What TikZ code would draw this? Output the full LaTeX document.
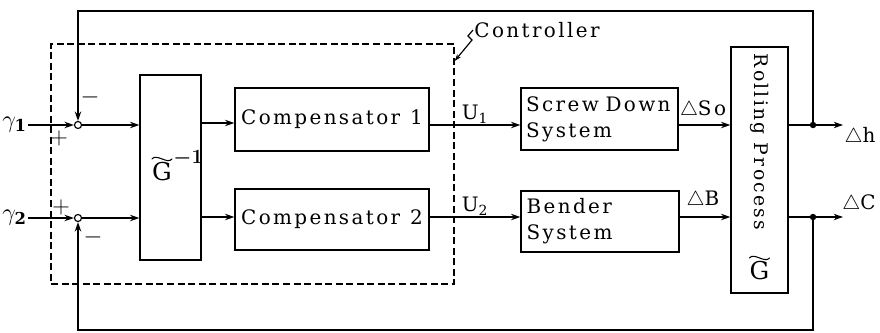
\documentclass[tikz,border=0pt]{standalone}
\usepackage{amsmath,amssymb}
\usepackage{fontspec}
\setmainfont{DejaVu Serif}
\newfontfamily\widefont{DejaVu Serif}[LetterSpace=12]
\newcommand{\dlt}{{\fontsize{19}{20}\selectfont$\triangle$}}
\usetikzlibrary{arrows.meta,positioning}

\tikzset{
  blockbox/.style={draw, line width=1.1pt, inner sep=0pt, font=\widefont\fontsize{17}{22}\selectfont},
  sumjn/.style={circle, draw, line width=1pt, inner sep=0pt, minimum size=6pt},
  sig/.style={line width=1.1pt, -{Stealth[length=8pt,width=5.5pt]}},
  tag/.style={font=\widefont\fontsize{17}{20}\selectfont, inner sep=1pt},
  sign/.style={font=\fontsize{20}{24}\selectfont, inner sep=0pt},
  tap/.style={circle, fill, inner sep=0pt, minimum size=5.5pt},
  bigg/.style={font=\fontsize{21}{24}\selectfont, inner sep=0pt},
  wave/.style={line width=0.9pt, line cap=round}
}

\begin{document}
\begin{tikzpicture}[x=0.03cm, y=-0.03cm]

    % Frame
    \useasboundingbox (0,0) rectangle (880,332);

    % Key y-values of the two channels
    \def\ya{125}
    \def\yb{218}

    % Controller (dashed)
    \node[draw, line width=1.1pt, dash pattern=on 6pt off 3pt, minimum width=12.09cm,
          minimum height=7.2cm, inner sep=0pt] (cbox) at (252.5,164) {};
    \node[tag, anchor=west] (ctrl) at (473,30) {Controller};

    % Summing points and inputs
    \node[anchor=east, inner sep=1pt, font=\fontsize{20}{24}\selectfont] (r1) at (28,\ya) {$\gamma_{\mathbf{1}}$};
    \node[anchor=east, inner sep=1pt, font=\fontsize{20}{24}\selectfont] (r2) at (28,\yb) {$\gamma_{\mathbf{2}}$};
    \node[sumjn] (sum1) at (78,\ya) {};
    \node[sumjn] (sum2) at (78,\yb) {};

    % Blocks
    \node[blockbox, minimum width=1.83cm, minimum height=5.55cm] (ginv) at (170.5,167.5) {};
    \node[bigg] (ginvg) at (162,172) {G};
    \node[font=\fontsize{16}{18}\selectfont\bfseries, inner sep=0pt, anchor=south west]
        (ginvexp) at ([xshift=1pt,yshift=-3pt]ginvg.north east) {$\boldsymbol{-1}$};
    \draw[wave] ([yshift=3pt]ginvg.north west) .. controls +(4pt,5pt) and +(-4pt,-5pt)
        .. ([yshift=3pt]ginvg.north east);
    \node[blockbox, minimum width=5.82cm, minimum height=1.89cm] (comp1) at (332,119.5)
        {Compensator\enspace 1};
    \node[blockbox, minimum width=5.82cm, minimum height=1.83cm] (comp2) at (332,219.5)
        {Compensator\enspace 2};
    \node[blockbox, minimum width=4.71cm, minimum height=1.86cm, align=left,
          text width=4.4cm] (screw) at (599.5,119) {Screw Down\\System};
    \node[blockbox, minimum width=4.74cm, minimum height=1.83cm, align=left,
          text width=4.4cm] (bender) at (600,221.5) {Bender\\System};
    \node[blockbox, minimum width=1.71cm, minimum height=7.38cm] (roll) at (759.5,170) {};
    \node[tag, rotate=-90, font=\widefont\fontsize{16}{19}\selectfont] (rolltxt) at (760,142) {Rolling Process};
    \node[bigg] (gtxt) at (759.5,271) {G};
    \draw[wave] ([yshift=3pt]gtxt.north west) .. controls +(4pt,5pt) and +(-4pt,-5pt)
        .. ([yshift=3pt]gtxt.north east);

    % Forward path
    \draw[sig] (r1.east) -- (sum1);
    \draw[sig] (r2.east) -- (sum2);
    \draw[sig] (sum1) -- (ginv.west |- sum1);
    \draw[sig] (sum2) -- (ginv.west |- sum2);
    \draw[sig] (ginv.east |- 0,123) -- (comp1.west |- 0,123);
    \draw[sig] (ginv.east |- 0,217) -- (comp2.west |- 0,217);
    \draw[sig] (comp1.east |- sum1) -- node[tag, above, pos=0.5] (u1) {U\textsubscript{1}} (screw.west |- sum1);
    \draw[sig] (comp2.east |- 0,217) -- node[tag, above, pos=0.5] (u2) {U\textsubscript{2}} (bender.west |- 0,217);
    \draw[sig] (screw.east |- sum1) -- (roll.west |- sum1);
    \draw[sig] (bender.east |- 0,217) -- (roll.west |- 0,217);

    % Outputs
    \coordinate (outh) at (843,\ya);
    \coordinate (outc) at (843,217);
    \draw[sig] (roll.east |- sum1) -- (outh);
    \draw[sig] (roll.east |- 0,217) -- (outc);
    \node[tap] (dot1) at (813,\ya) {};
    \node[tap] (dot2) at (813,217) {};

    % Signal names
    \node[tag] (dso) at (703,110) {\dlt So};
    \node[tag] (db) at (703,200) {\dlt B};
    \node[tag] (dh) at (860,137) {\dlt h};
    \node[tag] (dc) at (859,204) {\dlt C};

    % Feedback loops
    \coordinate (top) at (0,11);
    \coordinate (bot) at (0,330);
    \draw[sig] (dot1) -- (dot1 |- top) -| (sum1);
    \draw[sig] (dot2) -- (dot2 |- bot) -| (sum2);

    % Signs
    \node[sign] (m1) at (90,97) {$-$};
    \node[sign] (p1) at (59,138) {$+$};
    \node[sign] (p2) at (61,207) {$+$};
    \node[sign] (m2) at (93,237) {$-$};

    % Pointer to controller
    \draw[line width=1pt, -{Stealth[length=6pt,width=4pt]}] (ctrl.west) -- ++(-5,6) -- ++(4,4)
        -- (cbox.east |- 0,61);

\end{tikzpicture}
\end{document}
